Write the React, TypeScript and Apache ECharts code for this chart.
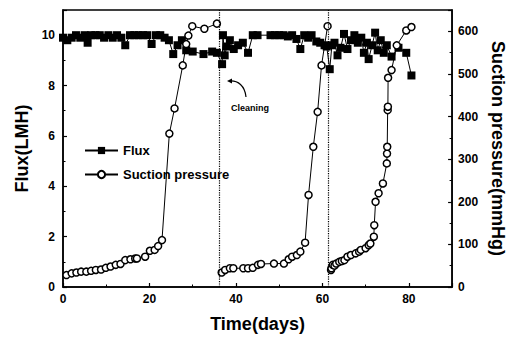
import React, { useEffect, useRef } from "react";
import * as echarts from "echarts";

// Permeate flux (LMH), sampled roughly daily
const fluxDays = [
  0, 1, 2, 3, 4, 5, 5.7, 6.5, 7.5, 8.5, 9.5, 10.5, 11.5, 12.5, 13.5, 14.4, 15.5, 16.5, 17.5, 18.5,
  19.5, 20.5, 21.5, 22.5, 23.5, 24.5, 25.5, 26.5, 27.5, 28.5, 30, 32.5, 34.5, 35.6,
  36.8, 37.0, 37.4, 37.9, 38.6, 39.5, 40.5, 41.6, 42.8, 43.9, 45, 48, 49, 50, 51, 52, 53, 54,
  54.9, 55.8, 56.7, 57.5, 58.6, 59.5, 60.5, 61.0, 61.7,
  62.2, 62.8, 63.5, 64.2, 65, 65.8, 66.6, 67.4, 68.2, 69, 69.6, 70.3, 70.7, 71.5, 72.2, 72.8,
  73.5, 74.2, 74.9, 76, 77.6, 79.4, 80.6,
];
const fluxValues = [
  9.9, 9.8, 9.9, 10.0, 9.9, 10.0, 9.7, 10.0, 10.0, 10.0, 9.9, 10.0, 9.9, 10.0, 9.9, 9.6, 10.0, 10.0, 10.0, 10.0,
  10.0, 9.65, 10.0, 10.0, 9.9, 9.8, 9.25, 9.6, 9.8, 9.4, 9.35, 9.25, 9.35, 9.3,
  8.85, 10.0, 9.2, 9.55, 9.8, 9.45, 9.6, 9.7, 9.3, 10.0, 10.0, 10.0, 10.0, 10.0, 10.0, 9.95, 10.0, 9.85,
  9.45, 10.0, 9.9, 10.0, 9.75, 9.7, 9.6, 9.55, 8.65,
  9.6, 9.7, 9.2, 9.5, 10.05, 9.45, 9.8, 10.0, 9.7, 9.9, 9.3, 9.7, 9.05, 9.6, 10.1, 9.4,
  9.8, 9.3, 9.6, 9.15, 9.5, 9.3, 8.4,
];

// Suction pressure (mmHg), one array pair per filtration run between cleanings
const run1Days = [
  0.8, 2.0, 3.1, 4.2, 5.4, 6.5, 7.6, 8.8, 9.9, 11, 12.2, 13.3, 14.4, 15.6, 16.7, 17.1, 19, 20.1, 21.2,
  22, 22.9, 24.6, 25.8, 27.7, 28.5, 29.0, 29.9, 32.7, 35.6,
];
const run1Values = [
  28, 32, 34, 36, 36, 38, 40, 41, 45, 48, 52, 54, 63, 65, 67, 67, 71, 85, 87,
  96, 110, 360, 419, 520, 570, 590, 612, 606, 618,
];
const run2Days = [
  36.7, 37.5, 38.6, 39.4, 41.7, 42.8, 43.9, 45.1, 45.8, 48.8, 51.1, 52.2, 53, 54.1, 54.9, 56,
  56.8, 57.9, 58.9, 59.8, 61.2,
];
const run2Values = [
  34, 40, 44, 44, 44, 44, 45, 52, 54, 55, 55, 65, 71, 75, 83, 104,
  216, 329, 411, 520, 612,
];
const run3Days = [
  62.0, 62.1, 62.4, 62.8, 63.2, 63.9, 64.5, 65.1, 65.8, 66.6, 67.7, 68.5, 68.9, 70, 70.7, 71.1,
  71.9, 72.0, 72.3, 73, 74, 74.9, 74.95, 75.0, 75.1, 75.15, 75.2, 76.0, 77.2, 79.4, 80.6,
];
const run3Values = [
  40, 44, 52, 50, 55, 59, 61, 63, 71, 75, 79, 83, 87, 91, 98, 102,
  118, 145, 200, 220, 243, 290, 313, 329, 415, 423, 491, 509, 567, 602, 610,
];

// Days on which the membrane was cleaned
const cleaningDays = [36.2, 61.3];

const FONT = "'Liberation Sans', Arial, sans-serif";

const pairs = (xs: number[], ys: number[]) => xs.map((x, i) => [x, ys[i]]);

const axisCommon = {
  axisLine: { show: true, lineStyle: { color: "#000", width: 1.5 } },
  axisTick: { show: true, inside: true, length: 4, lineStyle: { color: "#000", width: 1.2 } },
  minorTick: { show: true, splitNumber: 2, length: 2.5, lineStyle: { color: "#000", width: 1 } },
  splitLine: { show: false },
  axisLabel: {
    color: "#000",
    fontFamily: FONT,
    fontWeight: "bold" as const,
    fontSize: 12,
    showMaxLabel: false,
  },
  nameLocation: "middle" as const,
  nameTextStyle: { color: "#000", fontFamily: FONT, fontWeight: "bold" as const, fontSize: 18 },
};

const pressureSeries = (data: number[][]) => ({
  name: "Suction pressure",
  type: "line",
  yAxisIndex: 1,
  data,
  symbol: "circle",
  symbolSize: 7,
  itemStyle: { color: "#fff", borderColor: "#000", borderWidth: 1.5 },
  lineStyle: { color: "#000", width: 1 },
  z: 3,
});

export default function App() {
  const ref = useRef<HTMLDivElement>(null);

  useEffect(() => {
    if (!ref.current) return;
    const chart = echarts.init(ref.current, null, { renderer: "svg" });
    chart.setOption({
      animation: false,
      backgroundColor: "#fff",
      grid: { left: 63, right: 57, top: 10, bottom: 52, show: true, borderColor: "#000", borderWidth: 1.5 },
      legend: {
        orient: "vertical",
        left: 84,
        top: 144,
        padding: 0,
        itemWidth: 33,
        itemHeight: 9,
        itemGap: 11,
        data: ["Flux", "Suction pressure"],
        textStyle: { color: "#000", fontFamily: FONT, fontWeight: "bold", fontSize: 13 },
      },
      xAxis: {
        type: "value",
        min: 0,
        max: 90,
        interval: 20,
        name: "Time(days)",
        nameGap: 28,
        ...axisCommon,
        axisLabel: { ...axisCommon.axisLabel, margin: 6 },
      },
      yAxis: [
        {
          type: "value",
          position: "left",
          min: 0,
          max: 11,
          interval: 2,
          name: "Flux(LMH)",
          nameGap: 31,
          ...axisCommon,
          axisLabel: { ...axisCommon.axisLabel, margin: 8 },
        },
        {
          type: "value",
          position: "right",
          min: 0,
          max: 650,
          interval: 100,
          name: "Suction pressure(mmHg)",
          nameGap: 32,
          nameRotate: -90,
          ...axisCommon,
          axisLabel: { ...axisCommon.axisLabel, margin: 6 },
        },
      ],
      series: [
        {
          name: "Flux",
          type: "line",
          yAxisIndex: 0,
          data: pairs(fluxDays, fluxValues),
          symbol: "rect",
          symbolSize: 8,
          itemStyle: { color: "#000" },
          lineStyle: { color: "#000", width: 1 },
          z: 2,
          markLine: {
            silent: true,
            symbol: "none",
            label: { show: false },
            lineStyle: { color: "#000", type: "dotted", width: 1.2 },
            data: cleaningDays.map((d) => ({ xAxis: d })),
          },
        },
        pressureSeries(pairs(run1Days, run1Values)),
        pressureSeries(pairs(run2Days, run2Values)),
        pressureSeries(pairs(run3Days, run3Values)),
      ],
      graphic: [
        {
          type: "bezierCurve",
          shape: { x1: 246, y1: 97, x2: 229, y2: 81, cpx1: 245, cpy1: 86, cpx2: 238, cpy2: 80 },
          style: { stroke: "#000", lineWidth: 1.2, fill: null },
        },
        {
          type: "polygon",
          shape: { points: [[227, 81], [232, 78.5], [232, 83.5]] },
          style: { fill: "#000" },
        },
        {
          type: "text",
          left: 231,
          top: 103,
          style: { text: "Cleaning", fill: "#000", font: `bold 9px ${FONT}` },
        },
      ],
    });
    return () => chart.dispose();
  }, []);

  return (
    <div
      ref={ref}
      style={{ position: "fixed", left: 0, top: 0, width: 515, height: 339, background: "#fff" }}
    />
  );
}
